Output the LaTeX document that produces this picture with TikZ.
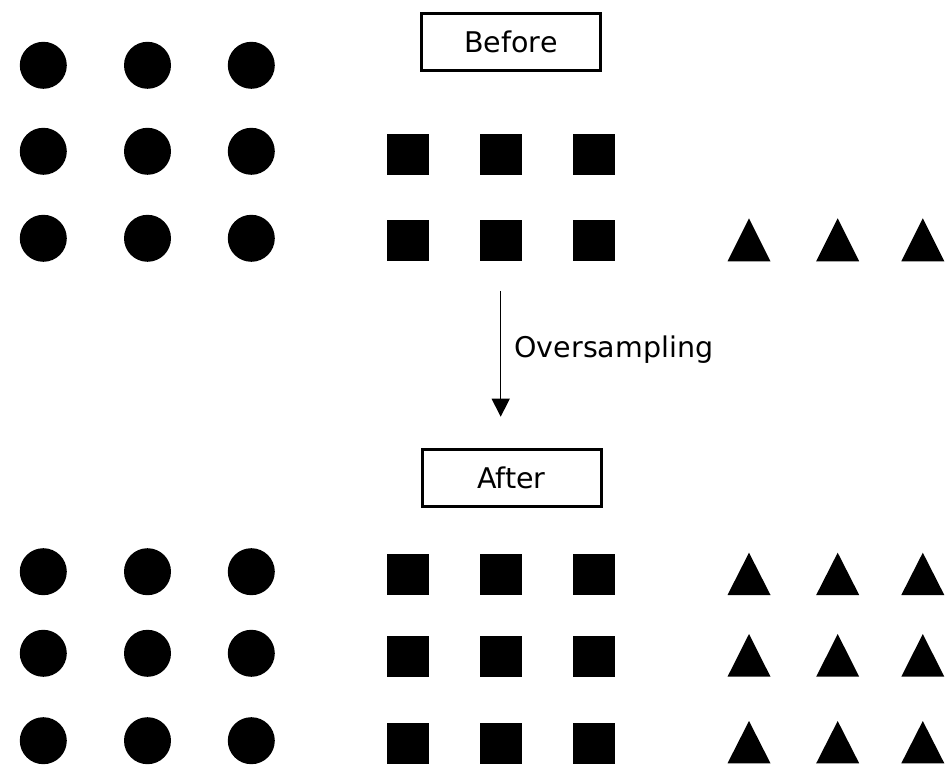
\documentclass[tikz,border=0pt]{standalone}
\usepackage{fontspec}
\setmainfont{DejaVu Sans}
\usetikzlibrary{arrows.meta}
\tikzset{
  dot/.style={circle, fill=black, inner sep=0pt, minimum size=47pt},
  sq/.style={rectangle, fill=black, inner sep=0pt, minimum width=42pt, minimum height=41pt},
  labelbox/.style={draw=black, line width=3pt, minimum width=179pt, minimum height=57pt, inner sep=0pt, font=\fontsize{28.5}{32}\selectfont},
  lbl/.style={font=\fontsize{28.5}{32}\selectfont, inner sep=0pt},
  arr/.style={line width=1.5pt, -{Triangle[width=18pt,length=18pt]}}
}
\begin{document}
\begin{tikzpicture}[x=1pt,y=-1pt]
\useasboundingbox (0,0) rectangle (946,770);
% circles
\foreach \r/\y in {b1/65.3,b2/151.3,b3/238.3,a1/571.7,a2/653.3,a3/740.7}{
  \foreach \c/\x in {1/43.3,2/147.5,3/251.3}{
    \node[dot] (c\r\c) at (\x,\y) {};
  }
}
% squares
\foreach \r/\y in {b2/154.7,b3/240.8,a1/574.7,a2/656.3,a3/743.5}{
  \foreach \c/\x in {1/407.7,2/500.8,3/593.5}{
    \node[sq] (s\r\c) at (\x,\y) {};
  }
}
% triangles
\foreach \t/\b in {218.3/261.3,552.7/595,634/676.7,721/763.3}{
  \foreach \x in {749,837.7,922.8}{
    \fill (\x-21.5,\b) -- (\x+21.5,\b) -- (\x,\t) -- cycle;
  }
}
% labels
\node[labelbox] (before) at (511,42) {Before};
\node[labelbox] (after) at (511.5,478.3) {After};
\coordinate (as) at (500.7,291);
\coordinate (ae) at (500.7,416.7);
\draw[arr] (as) -- (ae);
\node[lbl, anchor=base west] (ovs) at (514.3,357.3) {Oversampling};
\end{tikzpicture}
\end{document}
